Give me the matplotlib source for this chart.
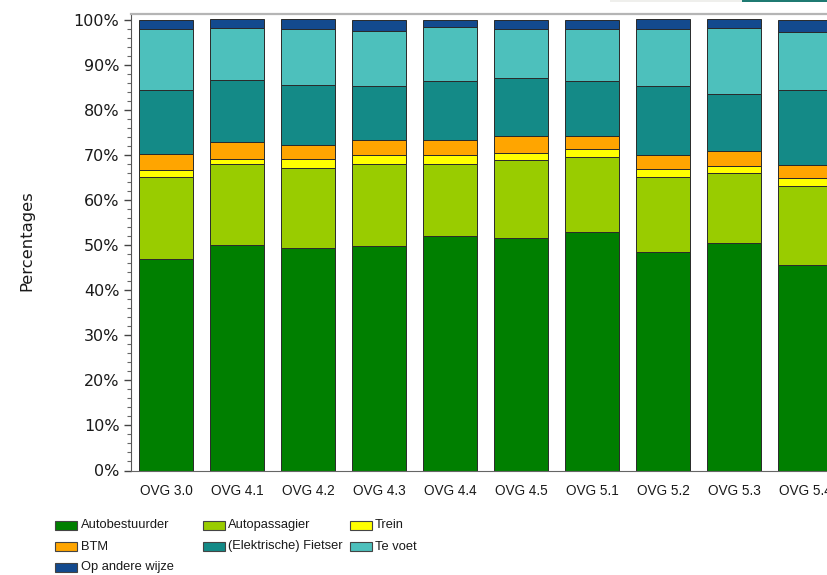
import numpy as np
import matplotlib
matplotlib.use('Agg')
import matplotlib.pyplot as plt
import matplotlib.ticker as mtick
from matplotlib.patches import Rectangle

# data (percentages per survey year)
waves = ['OVG 3.0', 'OVG 4.1', 'OVG 4.2', 'OVG 4.3', 'OVG 4.4',
         'OVG 4.5', 'OVG 5.1', 'OVG 5.2', 'OVG 5.3', 'OVG 5.4']
autobestuurder = [47.0, 50.1, 49.3, 49.8, 51.9, 51.6, 52.8, 48.5, 50.4, 45.5]
autopassagier = [18.0, 17.9, 17.7, 18.2, 16.1, 17.2, 16.8, 16.5, 15.5, 17.5]
trein = [1.7, 1.0, 2.0, 1.9, 2.0, 1.7, 1.7, 1.9, 1.7, 1.8]
btm = [3.5, 3.9, 3.2, 3.3, 3.3, 3.6, 2.8, 3.0, 3.2, 3.0]
fietser = [14.2, 13.6, 13.3, 12.0, 13.1, 12.9, 12.3, 15.4, 12.7, 16.5]
te_voet = [13.4, 11.7, 12.5, 12.3, 11.9, 10.8, 11.4, 12.7, 14.7, 13.0]
andere = [2.2, 1.8, 2.0, 2.5, 1.7, 2.2, 2.2, 2.0, 1.8, 2.7]

labels = ['Autobestuurder', 'Autopassagier', 'Trein', 'BTM',
          '(Elektrische) Fietser', 'Te voet', 'Op andere wijze']
series = [autobestuurder, autopassagier, trein, btm, fietser, te_voet, andere]
colors = ['#007F00', '#99CC00', '#FFFF00', '#FFA500',
          '#148A87', '#4DC0BC', '#134A8E']

sans = 'Liberation Sans'
txt = '#1a1a1a'

fig = plt.figure(figsize=(8.27, 5.75), dpi=100)
W, H = 827.0, 575.0
ax = fig.add_axes([130.5 / W, 104.5 / H, (876 - 130.5) / W, (470.5 - 14) / H])

x = np.arange(len(waves))
bottom = np.zeros(len(waves))
for vals, col in zip(series, colors):
    ax.bar(x, vals, width=0.75, bottom=bottom, color=col,
           edgecolor='#2a2a2a', linewidth=0.7)
    bottom += np.array(vals)

ax.set_xlim(-0.5, 10.0)
ax.set_ylim(0, 100 * (470.5 - 14) / (470.5 - 19.5))
ax.set_yticks(np.arange(0, 101, 10))
ax.yaxis.set_major_formatter(mtick.PercentFormatter(decimals=0))
ax.yaxis.set_minor_locator(mtick.MultipleLocator(2))
ax.tick_params(axis='y', which='major', length=5, width=1, color='#444444',
               labelsize=11.5, labelcolor=txt, pad=3)
ax.tick_params(axis='y', which='minor', length=3, width=0.8, color='#666666')
for lab in ax.get_yticklabels():
    lab.set_family('DejaVu Sans')

ax.set_xticks(x)
ax.set_xticklabels(waves, family=sans, fontsize=9.8, color=txt)
ax.tick_params(axis='x', length=0, pad=10)

ax.spines['right'].set_visible(False)
ax.spines['top'].set_color('#b5b5b5')
ax.spines['top'].set_linewidth(1.6)
ax.spines['left'].set_color('#555555')
ax.spines['bottom'].set_color('#666666')

fig.text(27 / W, 1 - 241 / H, 'Percentages', rotation=90, ha='center',
         va='center', fontsize=11.8, color=txt, family='DejaVu Sans')

# legend laid out in a grid like the original
patch_x = [55, 203, 350]
text_x = [81, 228, 375]
row_y = [525, 546.5, 567]
for k, lab in enumerate(labels):
    r, c = divmod(k, 3)
    fig.patches.append(Rectangle((patch_x[c] / W, 1 - (row_y[r] + 4.5) / H),
                                 22 / W, 9 / H, transform=fig.transFigure,
                                 facecolor=colors[k], edgecolor='#444444',
                                 linewidth=0.8))
    fig.text(text_x[c] / W, 1 - row_y[r] / H, lab, ha='left',
             va='center', fontsize=9.3, color=txt, family=sans)

# bits of the page header cut off at the top
fig.patches.append(Rectangle((610 / W, 1 - 2 / H), 132 / W, 2 / H,
                             transform=fig.transFigure, facecolor='#efefec',
                             edgecolor='none'))
fig.patches.append(Rectangle((742 / W, 1 - 2 / H), 85 / W, 2 / H,
                             transform=fig.transFigure, facecolor='#1f7a72',
                             edgecolor='none'))

fig.savefig('out.png', dpi=100)
